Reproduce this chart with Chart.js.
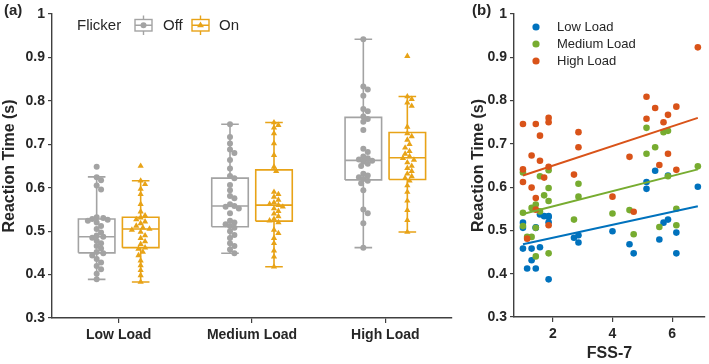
<!DOCTYPE html>
<html><head><meta charset="utf-8">
<script src="https://cdn.jsdelivr.net/npm/chart.js@4.4.0/dist/chart.umd.min.js"></script>
<style>
html,body{margin:0;padding:0;background:#fff;}
#wrap{position:relative;width:709px;height:364px;overflow:hidden;background:#fff;}
#pa{position:absolute;left:0;top:0;width:462px;height:364px;}
#pb{position:absolute;left:465px;top:0;width:244px;height:364px;}
</style></head><body>
<div id="wrap"><div id="pa"><canvas id="ca" width="462" height="364"></canvas></div><div id="pb"><canvas id="cb" width="244" height="364"></canvas></div></div>
<script>
// ---------- data: panel (a) ----------
const categories = ['Low Load', 'Medium Load', 'High Load'];
const flickerLevels = ['Off', 'On'];
const rtTicks = [0.3, 0.4, 0.5, 0.6, 0.7, 0.8, 0.9, 1];

const rtOffLow = [0.648,0.624,0.617,0.605,0.596,0.532,0.530,0.528,0.526,0.524,0.520,0.512,0.505,0.497,0.490,0.487,0.485,0.478,0.472,0.466,0.460,0.452,0.449,0.444,0.436,0.428,0.420,0.412,0.402,0.389];
const rtOffMedium = [0.746,0.717,0.702,0.688,0.680,0.664,0.644,0.627,0.622,0.606,0.594,0.581,0.576,0.562,0.558,0.556,0.552,0.541,0.524,0.520,0.516,0.512,0.508,0.500,0.491,0.484,0.472,0.466,0.458,0.449];
const rtOffHigh = [0.942,0.833,0.826,0.812,0.781,0.776,0.764,0.758,0.752,0.733,0.690,0.682,0.672,0.668,0.665,0.662,0.660,0.655,0.650,0.632,0.628,0.624,0.620,0.616,0.610,0.594,0.550,0.541,0.518,0.462];
const rtOnLow = [0.650,0.616,0.608,0.597,0.585,0.562,0.545,0.536,0.531,0.527,0.522,0.518,0.512,0.508,0.505,0.503,0.498,0.490,0.484,0.476,0.470,0.462,0.459,0.452,0.444,0.432,0.421,0.410,0.398,0.383];
const rtOnMedium = [0.750,0.744,0.738,0.725,0.702,0.675,0.648,0.638,0.590,0.585,0.579,0.572,0.566,0.562,0.560,0.556,0.552,0.546,0.540,0.534,0.528,0.524,0.520,0.503,0.495,0.484,0.472,0.455,0.441,0.418];
const rtOnHigh = [0.903,0.810,0.804,0.796,0.788,0.740,0.725,0.718,0.710,0.700,0.692,0.684,0.678,0.672,0.668,0.664,0.658,0.650,0.645,0.638,0.632,0.626,0.622,0.616,0.605,0.590,0.570,0.548,0.525,0.498];

// box statistics per category (Low, Medium, High)
const offWhiskerLow = [0.389, 0.449, 0.462];
const offQ1 = [0.450, 0.510, 0.618];
const offMedian = [0.487, 0.558, 0.663];
const offQ3 = [0.528, 0.622, 0.762];
const offWhiskerHigh = [0.625, 0.746, 0.942];
const onWhiskerLow = [0.383, 0.418, 0.498];
const onQ1 = [0.462, 0.523, 0.619];
const onMedian = [0.505, 0.560, 0.669];
const onQ3 = [0.532, 0.641, 0.727];
const onWhiskerHigh = [0.616, 0.750, 0.810];

// ---------- data: panel (b) ----------
const fssTicks = [2, 4, 6];
const fssLow = [1,1,1,1.14,1.29,1.29,1.43,1.43,1.43,1.57,1.57,1.71,1.86,1.86,1.86,1.86,2.71,2.86,2.86,4,4.57,4.71,5.14,5.14,5.43,5.57,5.71,5.86,5.86,6.14,6.14,6.86];
const rtLow = [0.518,0.506,0.458,0.412,0.458,0.431,0.506,0.412,0.507,0.537,0.461,0.533,0.533,0.519,0.387,0.531,0.483,0.489,0.472,0.498,0.468,0.447,0.612,0.596,0.638,0.479,0.518,0.627,0.525,0.495,0.447,0.601];
const fssMedium = [1,1,1,1.14,1.29,1.29,1.43,1.43,1.43,1.57,1.57,1.71,1.86,1.86,1.86,1.86,2.71,2.86,2.86,4,4.57,4.71,5.14,5.14,5.43,5.57,5.71,5.86,5.86,6.14,6.14,6.86];
const rtMedium = [0.634,0.541,0.510,0.485,0.552,0.485,0.560,0.506,0.440,0.625,0.544,0.581,0.639,0.598,0.568,0.447,0.525,0.608,0.578,0.539,0.547,0.491,0.737,0.677,0.692,0.508,0.727,0.730,0.625,0.550,0.512,0.648];
const fssHigh = [1,1,1,1.14,1.29,1.29,1.43,1.43,1.43,1.57,1.57,1.71,1.86,1.86,1.86,1.86,2.71,2.86,2.86,4,4.57,4.71,5.14,5.14,5.43,5.57,5.71,5.86,5.86,6.14,6.14,6.86];
const rtHigh = [0.746,0.641,0.612,0.481,0.673,0.599,0.746,0.575,0.548,0.719,0.661,0.622,0.760,0.750,0.647,0.512,0.629,0.727,0.692,0.578,0.670,0.543,0.758,0.809,0.783,0.651,0.750,0.767,0.677,0.786,0.640,0.923];
// fitted regression lines (start/end at fssFitRange)
const fssFitRange = [1, 6.86];
const fitLow = [0.468, 0.556];
const fitMedium = [0.538, 0.641];
const fitHigh = [0.627, 0.760];

// ---------- styling ----------
const FONT = "'Liberation Sans', Arial, Helvetica, sans-serif";
const TXT = '#262626';
const AX = '#404040';
const GRAY = '#a3a3a3';
const ORANGE = '#e8a317';
const C_LOW = '#0072BD', C_MED = '#77AC30', C_HIGH = '#D95319';
Chart.defaults.font.family = FONT;
Chart.defaults.color = TXT;

// ---------- panel (a) helpers ----------
const GROUP_OFFSET = 0.165, BOX_HALF = 0.137, CAP_HALF = 0.066;
function swarm(values, center) {
  const pxX = 133.3, pxY = 434, r = 4.6;
  const idx = values.map((v, i) => i).sort((a, b) => values[b] - values[a]);
  const placed = [], out = new Array(values.length);
  const cands = [0];
  for (let k = 1; k < 14; k++) { cands.push(k * 2.2, -k * 2.2); }
  for (const i of idx) {
    const v = values[i];
    let off = 0;
    for (const c of cands) {
      if (placed.every(p => Math.hypot(p.dx - c, (p.v - v) * pxY) >= r)) { off = c; break; }
    }
    placed.push({ dx: off, v });
    out[i] = { x: center + off / pxX, y: v };
  }
  return out;
}
function boxPath(c, lo, q1, med, q3, hi) {
  const g = { x: c, y: null };
  return [
    { x: c - BOX_HALF, y: q1 }, { x: c + BOX_HALF, y: q1 }, { x: c + BOX_HALF, y: q3 }, { x: c - BOX_HALF, y: q3 }, { x: c - BOX_HALF, y: q1 }, g,
    { x: c - BOX_HALF, y: med }, { x: c + BOX_HALF, y: med }, g,
    { x: c, y: q3 }, { x: c, y: hi }, g,
    { x: c - CAP_HALF, y: hi }, { x: c + CAP_HALF, y: hi }, g,
    { x: c, y: q1 }, { x: c, y: lo }, g,
    { x: c - CAP_HALF, y: lo }, { x: c + CAP_HALF, y: lo }
  ];
}
const offPoints = [rtOffLow, rtOffMedium, rtOffHigh];
const onPoints = [rtOnLow, rtOnMedium, rtOnHigh];
const dsA = [];
categories.forEach((cat, i) => {
  dsA.push({ label: 'Off ' + cat, data: swarm(offPoints[i], i - GROUP_OFFSET), pointStyle: 'circle', pointRadius: 3, backgroundColor: GRAY, borderWidth: 0, showLine: false, order: 1 });
  dsA.push({ label: 'On ' + cat, data: swarm(onPoints[i], i + GROUP_OFFSET), pointStyle: 'triangle', pointRadius: 3.6, backgroundColor: ORANGE, borderWidth: 0, showLine: false, order: 1 });
  dsA.push({ label: 'Off box ' + cat, data: boxPath(i - GROUP_OFFSET, offWhiskerLow[i], offQ1[i], offMedian[i], offQ3[i], offWhiskerHigh[i]), showLine: true, spanGaps: false, borderColor: GRAY, borderWidth: 1.6, pointRadius: 0, tension: 0, order: 2 });
  dsA.push({ label: 'On box ' + cat, data: boxPath(i + GROUP_OFFSET, onWhiskerLow[i], onQ1[i], onMedian[i], onQ3[i], onWhiskerHigh[i]), showLine: true, spanGaps: false, borderColor: ORANGE, borderWidth: 1.6, pointRadius: 0, tension: 0, order: 2 });
});

function tri(ctx, x, y, r, color) {
  ctx.fillStyle = color; ctx.beginPath();
  ctx.moveTo(x, y - r); ctx.lineTo(x + r * 0.95, y + r * 0.6); ctx.lineTo(x - r * 0.95, y + r * 0.6); ctx.closePath(); ctx.fill();
}
function legendIcon(ctx, x, color, marker) {
  ctx.save();
  ctx.strokeStyle = color; ctx.lineWidth = 1.4;
  ctx.strokeRect(x, 19.5, 17, 11.5);
  ctx.beginPath();
  ctx.moveTo(x, 25.2); ctx.lineTo(x + 17, 25.2);
  ctx.moveTo(x + 8.5, 19.5); ctx.lineTo(x + 8.5, 15.5);
  ctx.moveTo(x + 8.5, 31); ctx.lineTo(x + 8.5, 35);
  ctx.stroke();
  if (marker === 'circle') { ctx.fillStyle = color; ctx.beginPath(); ctx.arc(x + 8.5, 25.2, 3, 0, Math.PI * 2); ctx.fill(); }
  else tri(ctx, x + 8.5, 25.2, 3.6, color);
  ctx.restore();
}
const decorA = {
  id: 'decorA',
  afterDraw(chart) {
    const ctx = chart.ctx, L = chart.chartArea.left;
    ctx.save();
    ctx.fillStyle = TXT; ctx.textBaseline = 'middle';
    ctx.font = 'bold 15px ' + FONT;
    ctx.fillText('(a)', 4, 11);
    ctx.font = '15px ' + FONT;
    ctx.fillText('Flicker', L + 25, 25.5);
    legendIcon(ctx, L + 83, GRAY, 'circle');
    ctx.fillStyle = TXT; ctx.fillText(flickerLevels[0], L + 111, 25.5);
    legendIcon(ctx, L + 140, ORANGE, 'triangle');
    ctx.fillStyle = TXT; ctx.fillText(flickerLevels[1], L + 167, 25.5);
    ctx.restore();
  }
};

const yAxisCommon = (fitWidth, titlePad) => ({
  type: 'linear', min: 0.3, max: 1,
  afterBuildTicks: s => { s.ticks = rtTicks.map(v => ({ value: v })); },
  afterFit: s => { s.width = fitWidth; },
  ticks: { callback: v => String(Math.round(v * 10) / 10), font: { size: 14, weight: 'bold' }, color: TXT, padding: 3 },
  grid: { drawOnChartArea: false, drawTicks: true, tickLength: 4, color: AX, lineWidth: 1.2 },
  border: { display: true, color: AX, width: 1.4 },
  title: { display: true, text: 'Reaction Time (s)', font: { size: 16, weight: 'bold' }, color: TXT, padding: titlePad }
});

new Chart(document.getElementById('ca'), {
  type: 'scatter',
  data: { datasets: dsA },
  options: {
    responsive: false, animation: false, devicePixelRatio: 1,
    layout: { padding: { top: 14, right: 10, left: 0, bottom: 0 } },
    plugins: { legend: { display: false }, tooltip: { enabled: false } },
    scales: {
      x: {
        type: 'linear', min: -0.5, max: 2.5,
        afterBuildTicks: s => { s.ticks = categories.map((c, i) => ({ value: i })); },
        afterFit: s => { s.height = 46; },
        ticks: { callback: v => categories[v], font: { size: 14, weight: 'bold' }, color: TXT, autoSkip: false, maxRotation: 0, padding: 4 },
        grid: { drawOnChartArea: false, drawTicks: true, tickLength: 5, color: AX, lineWidth: 1.2 },
        border: { display: true, color: AX, width: 1.4 }
      },
      y: yAxisCommon(52, { top: 0, bottom: 2 })
    }
  },
  plugins: [decorA]
});

// ---------- panel (b) ----------
const toXY = (xs, ys) => xs.map((x, i) => ({ x, y: ys[i] }));
const loadNames = ['Low Load', 'Medium Load', 'High Load'];
const loadColors = [C_LOW, C_MED, C_HIGH];
const decorB = {
  id: 'decorB',
  afterDraw(chart) {
    const ctx = chart.ctx, L = chart.chartArea.left;
    ctx.save();
    ctx.fillStyle = TXT; ctx.textBaseline = 'middle';
    ctx.font = 'bold 15px ' + FONT;
    ctx.fillText('(b)', 7, 11);
    ctx.font = '13px ' + FONT;
    loadNames.forEach((n, i) => {
      const y = 27 + i * 17;
      ctx.fillStyle = loadColors[i]; ctx.beginPath(); ctx.arc(L + 22, y, 3.6, 0, Math.PI * 2); ctx.fill();
      ctx.fillStyle = TXT; ctx.fillText(n, L + 43, y + 0.5);
    });
    ctx.restore();
  }
};
const fitXY = ys => fssFitRange.map((x, i) => ({ x, y: ys[i] }));
new Chart(document.getElementById('cb'), {
  type: 'scatter',
  data: {
    datasets: [
      { label: 'Low fit', data: fitXY(fitLow), showLine: true, borderColor: C_LOW, borderWidth: 2, pointRadius: 0, order: 0 },
      { label: 'Medium fit', data: fitXY(fitMedium), showLine: true, borderColor: C_MED, borderWidth: 2, pointRadius: 0, order: 0 },
      { label: 'High fit', data: fitXY(fitHigh), showLine: true, borderColor: C_HIGH, borderWidth: 2, pointRadius: 0, order: 0 },
      { label: 'High Load', data: toXY(fssHigh, rtHigh), backgroundColor: C_HIGH, pointRadius: 3.3, borderWidth: 0, order: 1 },
      { label: 'Medium Load', data: toXY(fssMedium, rtMedium), backgroundColor: C_MED, pointRadius: 3.3, borderWidth: 0, order: 2 },
      { label: 'Low Load', data: toXY(fssLow, rtLow), backgroundColor: C_LOW, pointRadius: 3.3, borderWidth: 0, order: 3 }
    ]
  },
  options: {
    responsive: false, animation: false, devicePixelRatio: 1,
    layout: { padding: { top: 14, right: 2, left: 0, bottom: 0 } },
    plugins: { legend: { display: false }, tooltip: { enabled: false } },
    scales: {
      x: {
        type: 'linear', min: 0.7, max: 7.1,
        afterBuildTicks: s => { s.ticks = fssTicks.map(v => ({ value: v })); },
        afterFit: s => { s.height = 47; },
        ticks: { font: { size: 14, weight: 'bold' }, color: TXT, padding: 4 },
        grid: { drawOnChartArea: false, drawTicks: true, tickLength: 5, color: AX, lineWidth: 1.2 },
        border: { display: true, color: AX, width: 1.4 },
        title: { display: true, text: 'FSS-7', font: { size: 16, weight: 'bold' }, color: TXT, padding: { top: 0, bottom: 1 } }
      },
      y: yAxisCommon(49, { top: 4, bottom: 2 })
    }
  },
  plugins: [decorB]
});
</script>
</body></html>
